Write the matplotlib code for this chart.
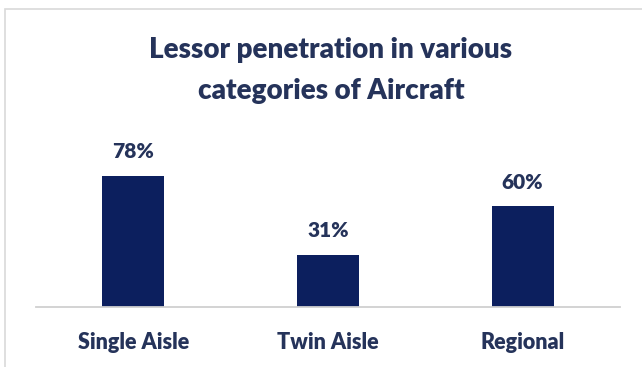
import matplotlib.pyplot as plt
from matplotlib.patches import Rectangle

categories = ["Single Aisle", "Twin Aisle", "Regional"]
values = [78, 31, 60]
labels = ["78%", "31%", "60%"]
title_lines = ["Lessor penetration in various", "categories of Aircraft"]

bar_color = "#0c1f5e"
text_color = "#25335a"

plt.rcParams['font.family'] = ['Lato', 'DejaVu Sans']

fig = plt.figure(figsize=(6.42, 3.67), dpi=100)
fig.patches.append(Rectangle((5 / 642, -0.1), 1.2, 1 - 9 / 367 + 0.1,
                             transform=fig.transFigure, fill=False,
                             edgecolor="#d9d9d9", linewidth=1.2))

ax = fig.add_axes([36 / 642, 1 - 307 / 367, 584 / 642, 168 / 367])
x = range(len(categories))
ax.bar(x, values, width=0.32, color=bar_color)
for i, v in enumerate(values):
    ax.text(i, v + 10.5, labels[i], ha='center', va='baseline', fontsize=15,
            fontweight='heavy', color=text_color)

ax.set_xlim(-0.5, 2.5)
ax.set_ylim(0, 100)
ax.set_xticks(list(x))
ax.set_xticklabels(categories, fontsize=15.5, fontweight='heavy', color=text_color)
ax.tick_params(axis='x', length=0, pad=18)
ax.set_yticks([])
for s in ['top', 'left', 'right']:
    ax.spines[s].set_visible(False)
ax.spines['bottom'].set_color('#d0d0d0')
ax.spines['bottom'].set_linewidth(1.3)

for line, ybase in zip(title_lines, [58, 99]):
    fig.text(331 / 642, 1 - ybase / 367, line, ha='center', va='baseline',
             fontsize=20, fontweight='heavy', color=text_color)

fig.savefig("out.png", dpi=100, facecolor='white')
